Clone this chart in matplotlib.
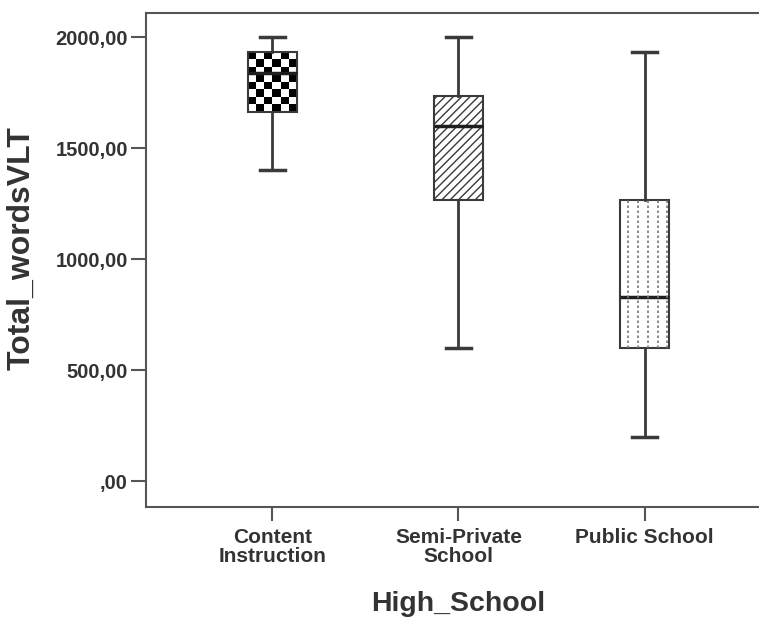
import numpy as np
import matplotlib.pyplot as plt

# box plot summary values
groups = ['Content\nInstruction', 'Semi-Private\nSchool', 'Public School']
whislo = [1400, 600, 200]
q1 = [1663, 1267, 600]
med = [1840, 1600, 831]
q3 = [1933, 1735, 1267]
whishi = [2000, 2000, 1933]
yticks = [0, 500, 1000, 1500, 2000]
ytick_labels = [',00', '500,00', '1000,00', '1500,00', '2000,00']

plt.rcParams['font.family'] = ['Liberation Sans', 'DejaVu Sans']
plt.rcParams['hatch.linewidth'] = 1.0

line_col = '#3a3a3a'
fig = plt.figure(figsize=(7.59, 6.17), dpi=100)
ax = fig.add_axes([146/759, 110/617, 625/759, 494/617])

stats = []
for i in range(len(groups)):
    stats.append(dict(whislo=whislo[i], q1=q1[i], med=med[i], q3=q3[i],
                      whishi=whishi[i], fliers=[]))

positions = [1, 2, 3]
bw = 0.26
bp = ax.bxp(stats, positions=positions, widths=bw, capwidths=bw/2,
            patch_artist=True, showfliers=False,
            boxprops=dict(facecolor='white', edgecolor=line_col, linewidth=1.5),
            whiskerprops=dict(color=line_col, linewidth=2),
            capprops=dict(color=line_col, linewidth=2.5),
            medianprops=dict(color='#1e1e1e', linewidth=2.5))
boxes = bp['boxes']

# checkerboard fill for first box
boxes[0].set_facecolor('none')
ncol = 6
nrow = 8
checker = np.indices((nrow, ncol)).sum(axis=0) % 2
im = ax.imshow(checker, cmap='gray', vmin=0, vmax=1,
               extent=[positions[0]-bw/2, positions[0]+bw/2, q1[0], q3[0]],
               aspect='auto', interpolation='nearest', zorder=1.9)
im.set_clip_path(boxes[0])

# diagonal hatch for second box
boxes[1].set_hatch('////')

# dotted vertical lines for third box
xs = [positions[2] - bw/2 + f*bw for f in [0.15, 0.36, 0.57, 0.78, 0.96]]
vl = ax.vlines(xs, q1[2], q3[2], colors='#777777', linestyles=(0, (1.5, 1.5)),
               linewidth=1.2, zorder=2.1)
vl.set_clip_path(boxes[2])

ax.set_xlim(0.32, 3.68)
ax.set_ylim(-117, 2109)
ax.set_xticks(positions)
ax.set_xticklabels(groups, fontsize=15, fontweight='bold', color='#333333',
                   linespacing=1.0)
ax.set_yticks(yticks)
ax.set_yticklabels(ytick_labels, fontsize=14.5, fontweight='bold', color='#333333')
ax.tick_params(axis='y', length=11, width=1.5, color='#555555', pad=2)
ax.tick_params(axis='x', length=10, width=1.5, color='#555555', pad=5)

for s in ['left', 'bottom', 'top']:
    ax.spines[s].set_color('#555555')
    ax.spines[s].set_linewidth(1.5)
ax.spines['right'].set_visible(False)

ax.set_ylabel('Total_wordsVLT', fontsize=23, fontweight='bold', color='#333333')
ax.yaxis.set_label_coords(-0.176, 0.524)
ax.set_xlabel('High_School', fontsize=20.5, fontweight='bold', color='#333333', labelpad=18)

fig.savefig('out.png', dpi=100)
